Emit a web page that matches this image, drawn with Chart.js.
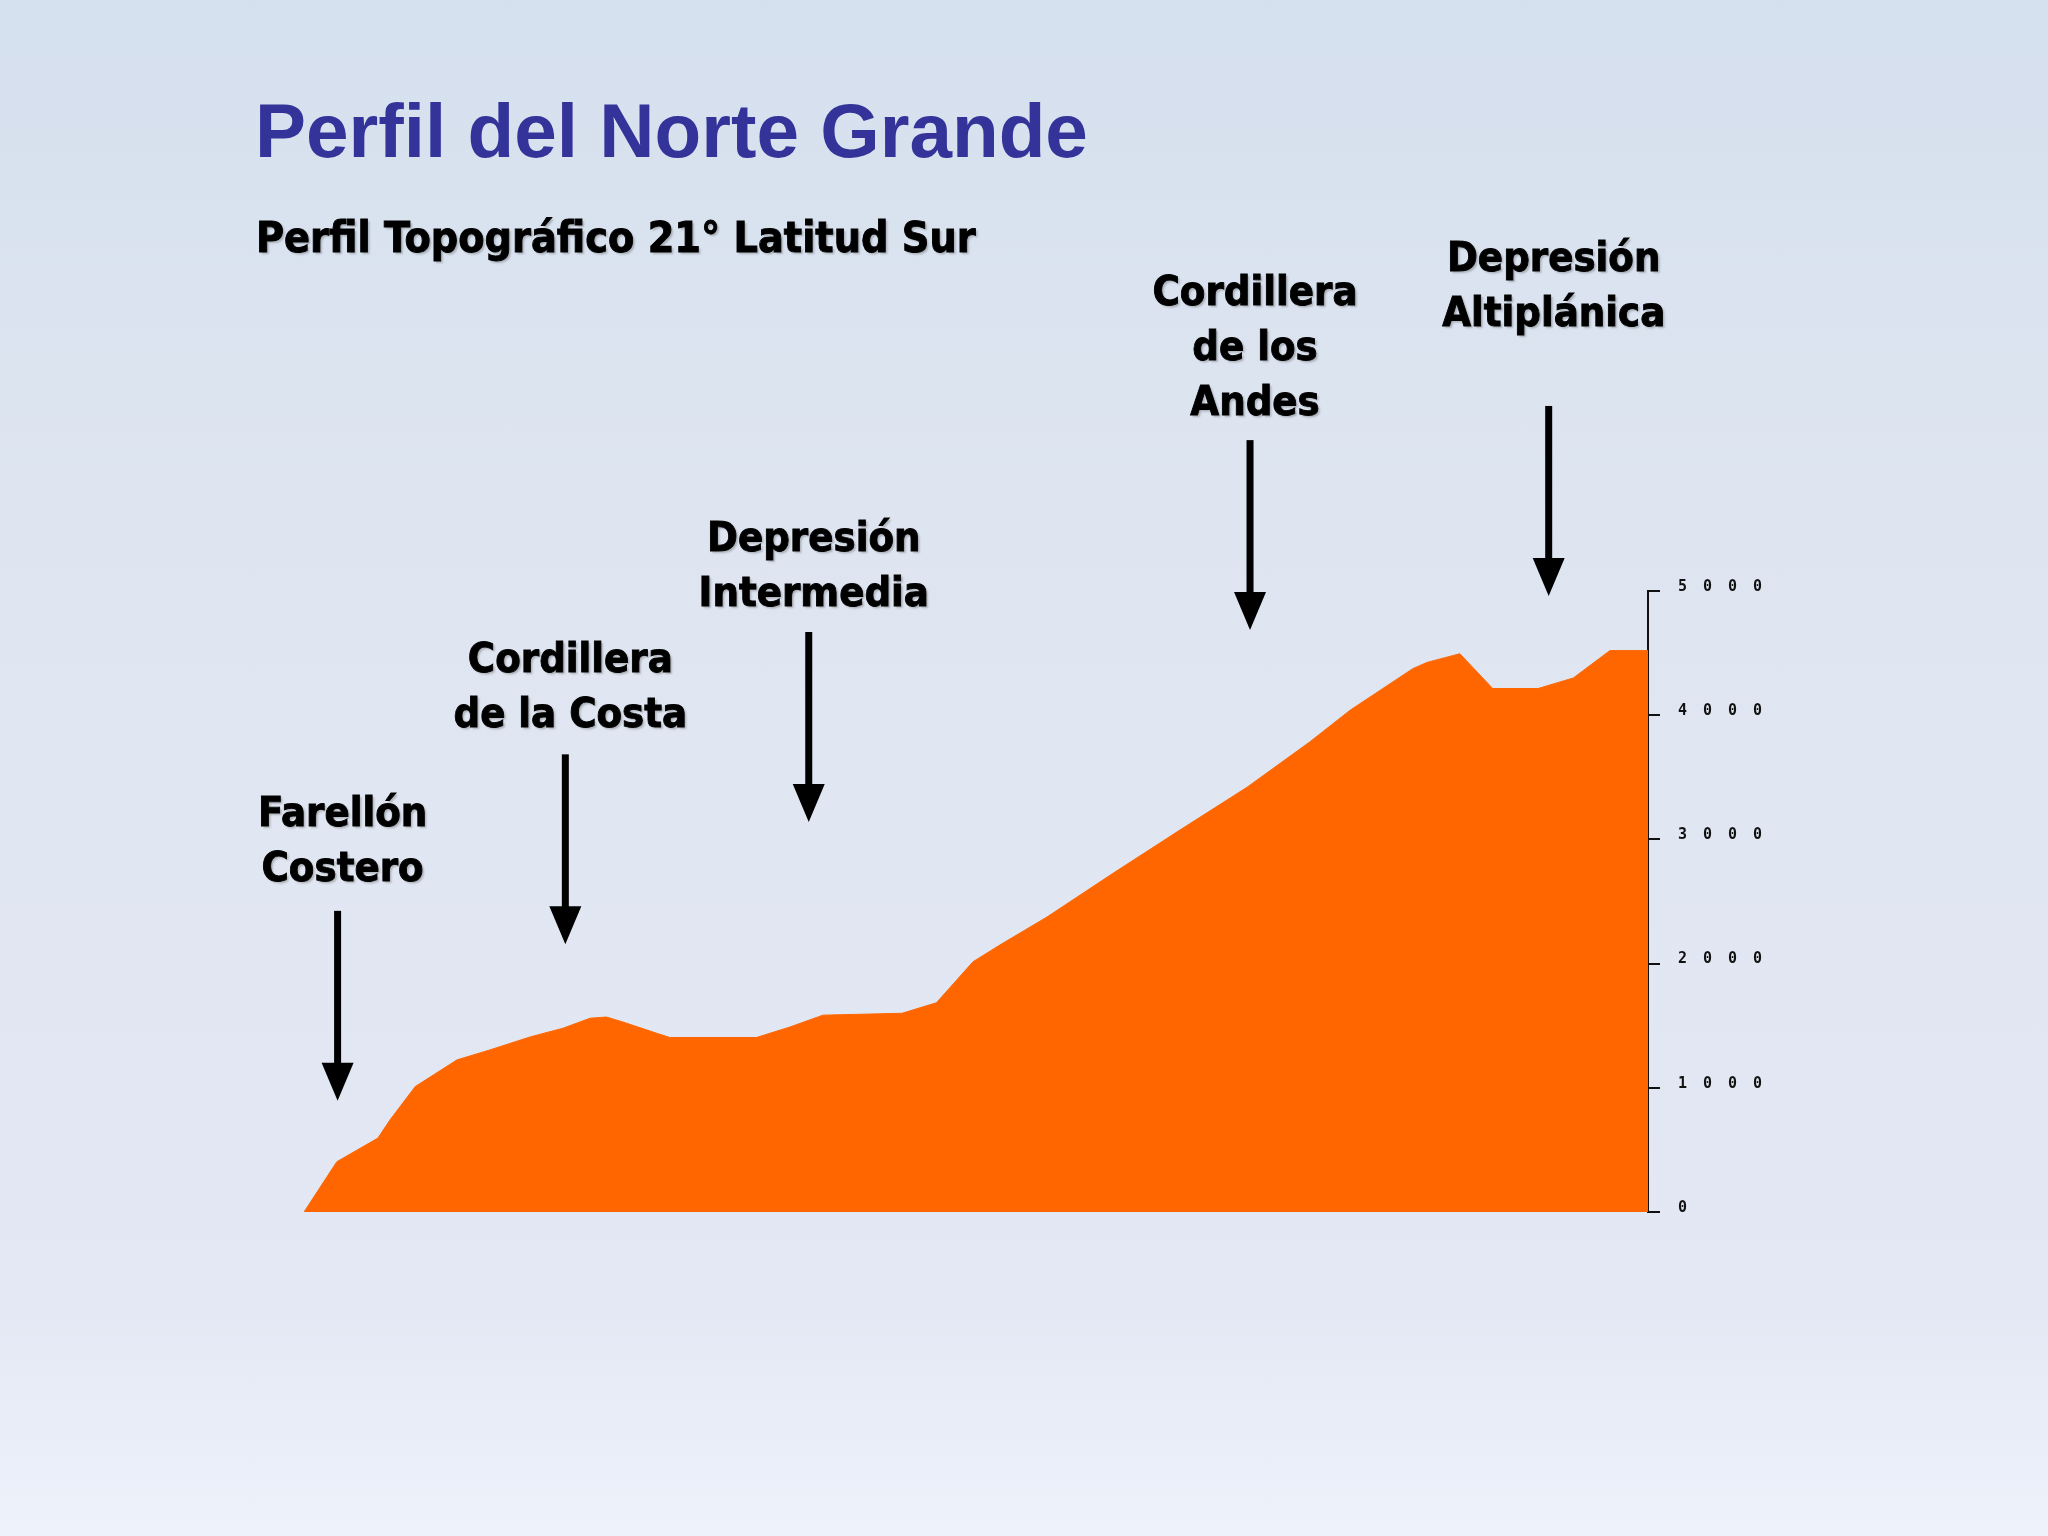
<!DOCTYPE html>
<html><head><meta charset="utf-8">
<script src="https://cdn.jsdelivr.net/npm/chart.js@4.4.1/dist/chart.umd.min.js"></script>
<style>
html,body{margin:0;padding:0;width:2048px;height:1536px;overflow:hidden;
background:linear-gradient(to bottom,#d5e0ee 0%,#dce4f0 25%,#e1e7f2 55%,#e3e8f4 85%,#edf2fb 100%);}
#c{position:absolute;left:0;top:0;}
</style></head><body>
<canvas id="c" width="2048" height="1536"></canvas>
<script>
// ---- DATA ----
const title = 'Perfil del Norte Grande';
const subtitle = 'Perfil Topográfico 21° Latitud Sur';
const distanceKm = [0, 4.4, 9.9, 11.5, 14.9, 20.5, 24.9, 30.3, 34.7, 38.3, 40.5, 42.7, 47.2, 49.0, 60.6, 65.1, 69.5, 80.1, 84.7, 89.6, 93.2, 99.5, 108.3, 117.3, 126.3, 134.7, 140.1, 148.5, 150.4, 154.8, 159.2, 165.3, 170.0, 174.9, 180.0];
const elevationM = [0, 405, 595, 740, 1010, 1225, 1305, 1410, 1480, 1560, 1570, 1530, 1440, 1405, 1405, 1490, 1585, 1600, 1685, 2015, 2150, 2375, 2725, 3075, 3420, 3785, 4040, 4375, 4425, 4495, 4215, 4215, 4300, 4520, 4520];
const yTickValues = [0, 1000, 2000, 3000, 4000, 5000];
const regionLabels = [['Farellón', 'Costero'], ['Cordillera', 'de la Costa'], ['Depresión', 'Intermedia'], ['Cordillera', 'de los', 'Andes'], ['Depresión', 'Altiplánica']];
const regionKm = [4.5, 35.0, 67.6, 126.7, 166.7];
const arrowTipM = [895, 2155, 3140, 4685, 4960];

// ---- STYLE / LAYOUT ----
const labelGap = [30, 27, 26, 25, 80];
const ORANGE = '#ff6600';

const overlay = {
  id: 'overlay',
  beforeDraw(chart) { chart.ctx.letterSpacing = '16px'; },
  afterDraw(chart) {
    const ctx = chart.ctx;
    ctx.save();
    ctx.letterSpacing = '0px';
    const fit = (weight, fam, text, target, base) => {
      ctx.font = weight + ' ' + base + 'px ' + fam;
      return base * target / ctx.measureText(text).width;
    };
    // Title
    const tFam = "'Liberation Sans', Arial, sans-serif";
    const tSize = fit('bold', tFam, title, 833, 78);
    ctx.font = 'bold ' + tSize + 'px ' + tFam;
    ctx.fillStyle = '#333399';
    ctx.textAlign = 'left'; ctx.textBaseline = 'alphabetic';
    ctx.fillText(title, 255, 157);
    // Subtitle and labels (Tahoma-like)
    const lFam = "'DejaVu Sans Condensed', 'DejaVu Sans', sans-serif";
    const heavyText = (t, x, y) => {
      ctx.shadowColor = 'rgba(60,60,60,0.3)';
      ctx.shadowOffsetX = 2; ctx.shadowOffsetY = 2; ctx.shadowBlur = 2;
      ctx.fillText(t, x, y);
      ctx.shadowColor = 'transparent';
      ctx.lineWidth = 0.9; ctx.strokeStyle = '#000';
      ctx.strokeText(t, x, y);
    };
    const sSize = fit('bold', lFam, subtitle, 720, 45);
    ctx.font = 'bold ' + sSize + 'px ' + lFam;
    ctx.fillStyle = '#000';
    heavyText(subtitle, 256, 252);
    const aSize = fit('bold', lFam, 'Cordillera', 205, 42);
    const xs = chart.scales.x, ys = chart.scales.y;
    const shaftLen = 190, headH = 38, headW = 32, shaftW = 7, lineH = 55;
    regionLabels.forEach((lines, i) => {
      const px = xs.getPixelForValue(regionKm[i]);
      const tipY = ys.getPixelForValue(arrowTipM[i]);
      const topY = tipY - shaftLen;
      // arrow
      ctx.shadowColor = 'transparent';
      ctx.fillStyle = '#000';
      ctx.fillRect(px - shaftW / 2, topY, shaftW, shaftLen - headH + 1);
      ctx.beginPath();
      ctx.moveTo(px - headW / 2, tipY - headH);
      ctx.lineTo(px + headW / 2, tipY - headH);
      ctx.lineTo(px, tipY);
      ctx.closePath(); ctx.fill();
      // label
      ctx.font = 'bold ' + aSize + 'px ' + lFam;
      ctx.textAlign = 'center';
      const lastBase = topY - labelGap[i];
      lines.forEach((t, j) => {
        heavyText(t, px + 5, lastBase - (lines.length - 1 - j) * lineH);
      });
    });
    ctx.restore();
  }
};

new Chart(document.getElementById('c'), {
  type: 'line',
  data: {
    datasets: [{
      data: distanceKm.map((d, i) => ({ x: d, y: elevationM[i] })),
      fill: 'origin',
      backgroundColor: ORANGE,
      borderColor: ORANGE,
      borderWidth: 1,
      pointRadius: 0,
      tension: 0
    }]
  },
  options: {
    responsive: false,
    animation: false,
    devicePixelRatio: 1,
    layout: { padding: { left: 304, right: 250, top: 591, bottom: 324 } },
    plugins: { legend: { display: false }, tooltip: { enabled: false }, title: { display: false } },
    scales: {
      x: { type: 'linear', display: false, min: 0, max: distanceKm[distanceKm.length - 1] },
      y: {
        type: 'linear', position: 'right', min: 0, max: 5000,
        afterFit(s) { s.width = 150; s.paddingTop = 0; s.paddingBottom = 0; },
        afterBuildTicks(s) { s.ticks = yTickValues.map(v => ({ value: v })); },
        border: { display: true, color: '#111', width: 2 },
        grid: { display: true, drawOnChartArea: false, drawTicks: true, tickLength: 12, color: '#111', lineWidth: 2, tickWidth: 2 },
        ticks: { padding: 18, color: '#111', font: { family: "'DejaVu Sans Mono', monospace", size: 15, weight: 'bold' }, labelOffset: -4, callback: v => String(v) }
      }
    }
  },
  plugins: [overlay]
});
</script>
</body></html>
